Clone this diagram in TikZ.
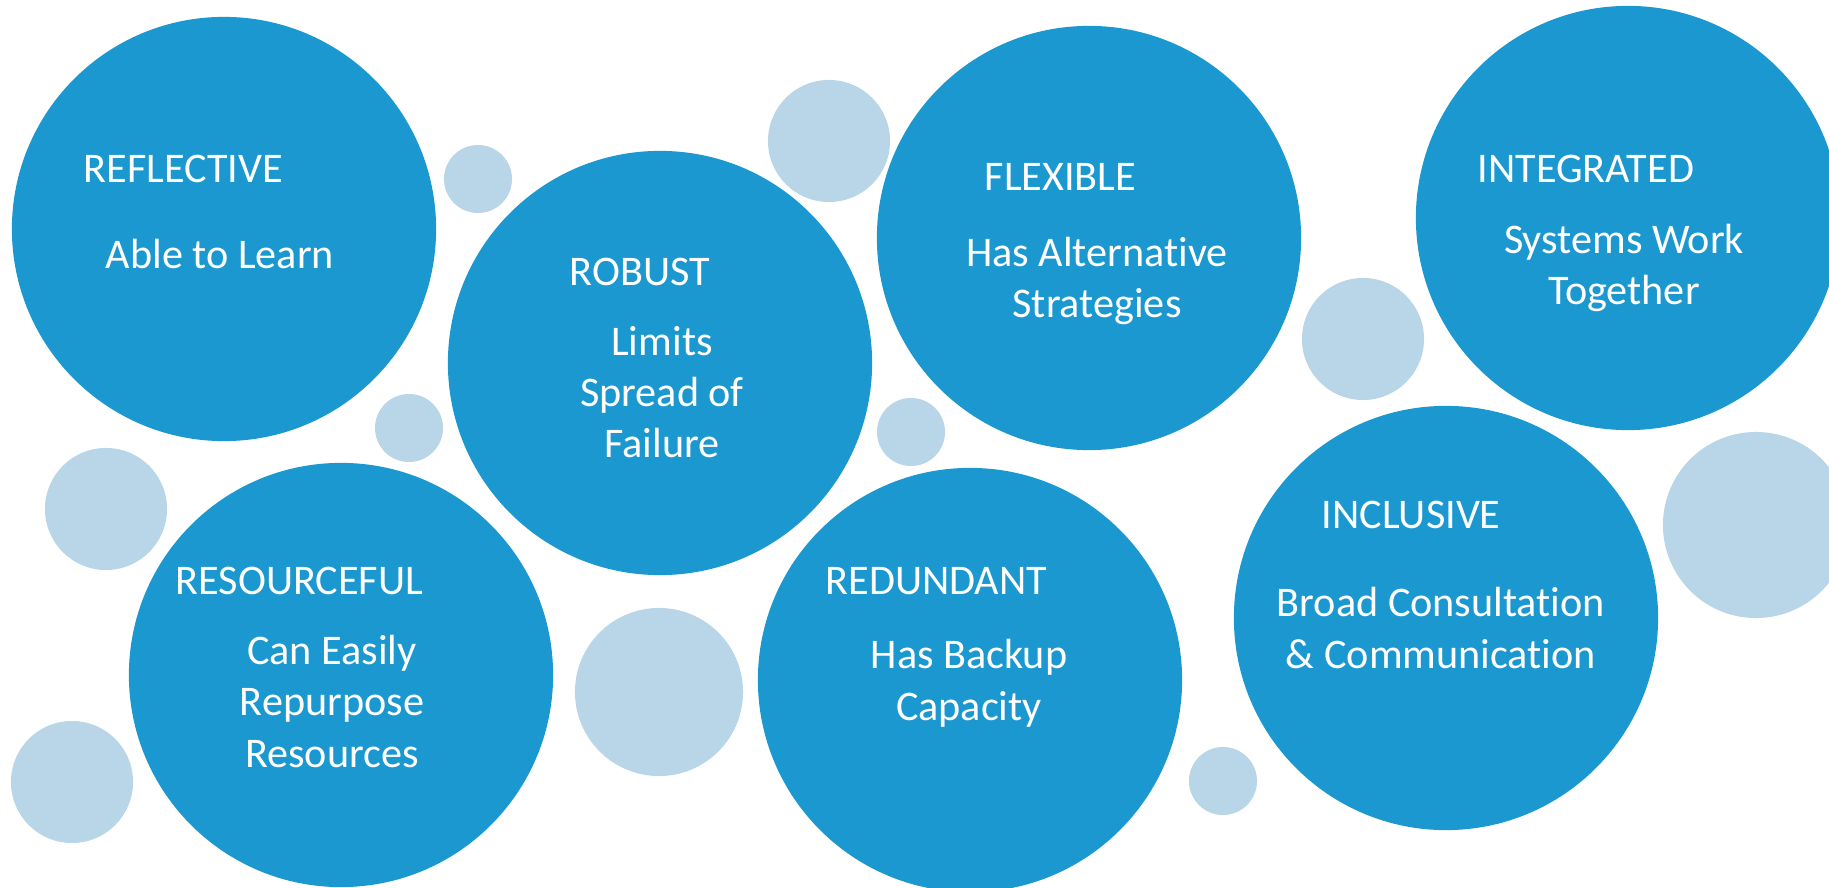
\documentclass[tikz,border=0pt]{standalone}
\usepackage{fontspec}
\setmainfont{Carlito}[Ligatures=NoCommon]
\definecolor{bubble}{RGB}{28,152,208}
\definecolor{lightbub}{RGB}{185,213,232}
\tikzset{
  big/.style={circle,fill=bubble,minimum size=4.24cm,inner sep=0pt},
  froth/.style={circle,fill=lightbub,minimum size=#1,inner sep=0pt},
  head/.style={text=white,anchor=base west,inner sep=0pt,font=\fontsize{12}{14.6}\selectfont},
  body/.style={text=white,anchor=base,align=center,inner sep=0pt,font=\fontsize{12}{14.6}\selectfont}
}
\begin{document}
\begin{tikzpicture}[x=0.01cm,y=-0.01cm]
  \useasboundingbox (0,0) rectangle (1829,888);
  \clip (0,0) rectangle (1829,888);
  \draw
    (478,179) node[froth=0.68cm] (s1){}
    (829,141) node[froth=1.22cm] (s2){}
    (1363,339) node[froth=1.22cm] (s3){}
    (409,428) node[froth=0.68cm] (s4){}
    (911,432) node[froth=0.68cm] (s5){}
    (106,509) node[froth=1.22cm] (s6){}
    (1756,525) node[froth=1.86cm] (s7){}
    (659,692) node[froth=1.68cm] (s8){}
    (72,782) node[froth=1.22cm] (s9){}
    (1223,781) node[froth=0.68cm] (s10){};
  \draw
    (224,229) node[big] (reflective){}
    (660,363) node[big] (robust){}
    (1089,238) node[big] (flexible){}
    (1628,218) node[big] (integrated){}
    (341,675) node[big] (resourceful){}
    (970,680) node[big] (redundant){}
    (1446,618) node[big] (inclusive){};
  \draw
    (83,183) node[head] (reflective-h){REFLECTIVE}
    (220,269) node[body] (reflective-b){Able to Learn}
    (569,286) node[head] (robust-h){ROBUST}
    (662,458) node[body] (robust-b){Limits\\Spread of\\Failure}
    (984,191) node[head] (flexible-h){FLEXIBLE}
    (1097,318) node[body] (flexible-b){Has Alternative\\Strategies}
    (1477,183) node[head] (integrated-h){INTEGRATED}
    (1624,305) node[body] (integrated-b){Systems Work\\Together}
    (175,594) node[head] (resourceful-h){RESOURCEFUL}
    (332,767) node[body] (resourceful-b){Can Easily\\Repurpose\\Resources}
    (825,594) node[head] (redundant-h){REDUNDANT}
    (969,720) node[body] (redundant-b){Has Backup\\Capacity}
    (1321,528) node[head] (inclusive-h){INCLUSIVE}
    (1441,668) node[body] (inclusive-b){Broad Consultation\\\& Communication};
\end{tikzpicture}
\end{document}
